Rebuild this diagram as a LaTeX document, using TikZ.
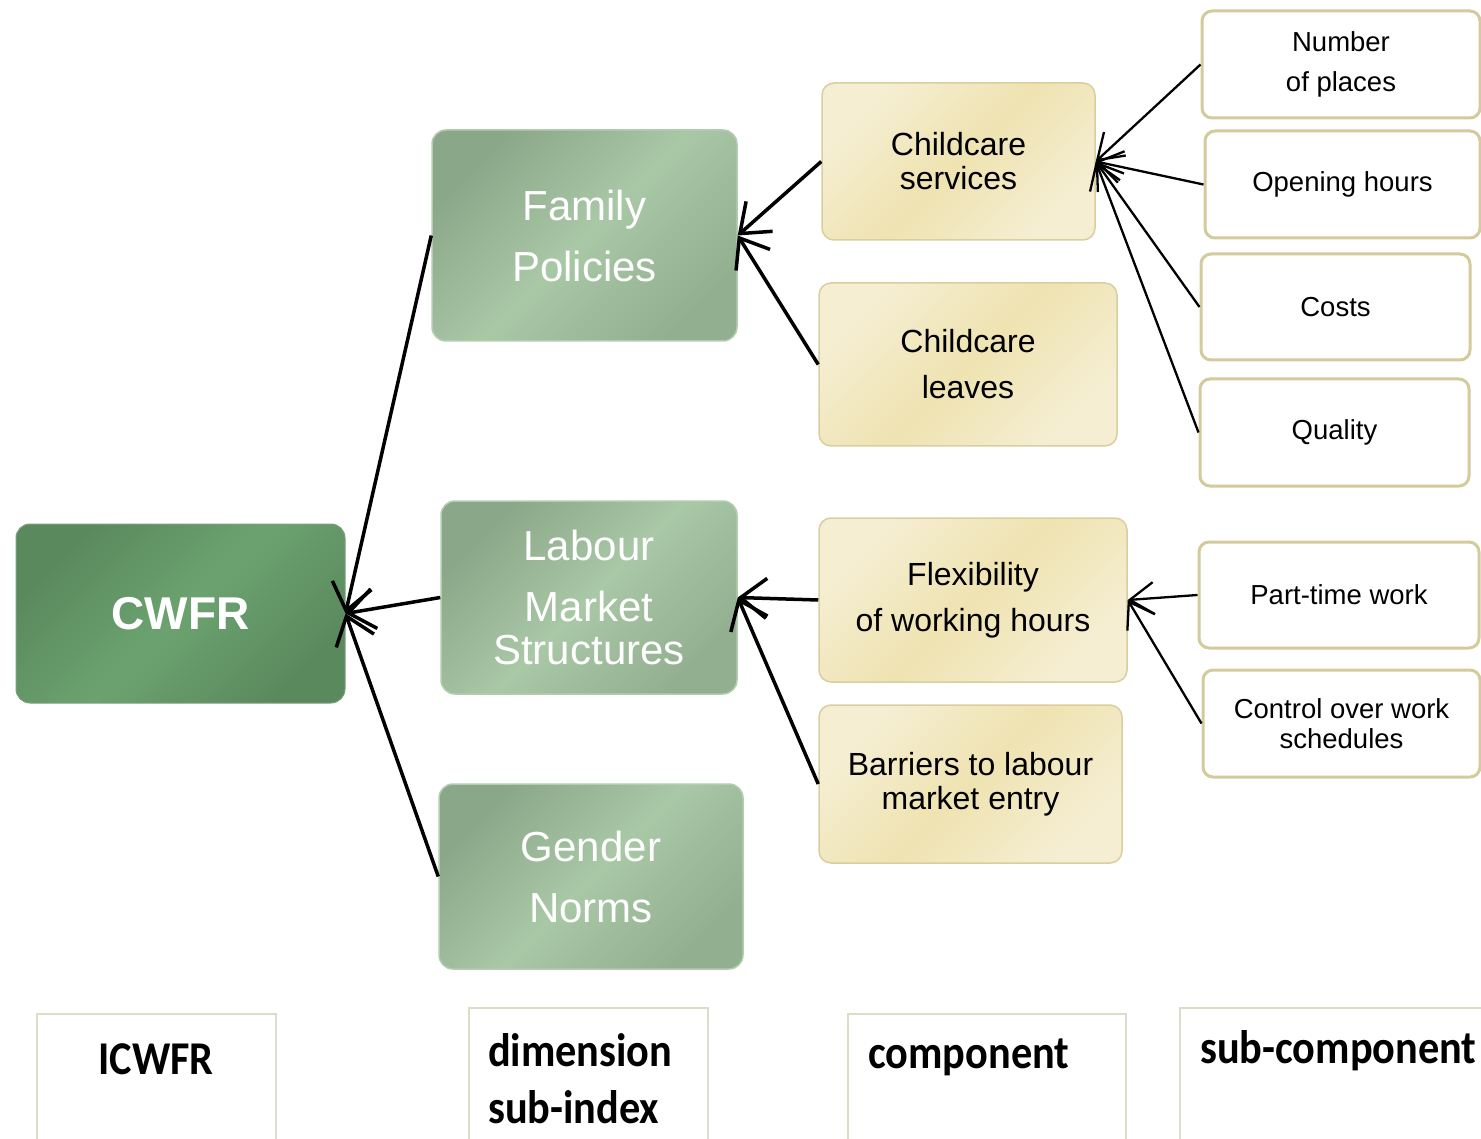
\documentclass[tikz,border=0pt]{standalone}
\usepackage{fontspec}
\setmainfont{Liberation Sans}
\newfontfamily\labfont[FakeStretch=0.9]{Carlito}
\usetikzlibrary{arrows.meta}
\definecolor{cwA}{HTML}{5A895D}
\definecolor{cwB}{HTML}{6CA270}
\definecolor{dmA}{HTML}{8BA789}
\definecolor{dmB}{HTML}{A9C8A6}
\definecolor{dmL}{HTML}{B3CDB0}
\definecolor{cpA}{HTML}{F5EED3}
\definecolor{cpB}{HTML}{EFE3B1}
\definecolor{cpL}{HTML}{D8CE9E}
\definecolor{scL}{HTML}{D3CB9C}
\definecolor{lbL}{HTML}{DADDC8}
\begin{document}
\begin{tikzpicture}[x=1pt,y=-1pt,
  cwbox/.style={rounded corners=14pt, draw=cwA!80!white, line width=1pt, inner sep=0pt,
    top color=cwA, bottom color=cwA, middle color=cwB, shading angle=45,
    text=white, font=\fontsize{46}{50}\selectfont\bfseries},
  dimbox/.style={rounded corners=14pt, draw=dmL, line width=1.5pt, inner sep=0pt, align=center,
    top color=dmA, bottom color=dmA!75!dmB, middle color=dmB, shading angle=45,
    text=white, font=\fontsize{42}{61}\selectfont},
  compbox/.style={rounded corners=12pt, draw=cpL, line width=1.5pt, inner sep=0pt, align=center,
    top color=cpA, bottom color=cpA, middle color=cpB, shading angle=45,
    text=black},
  subbox/.style={rounded corners=10pt, draw=scL, line width=3pt, fill=white, inner sep=0pt,
    align=center, text=black},
  labbox/.style={draw=lbL, line width=1.5pt, fill=white, inner sep=0pt},
  labtext/.style={inner sep=0pt, font=\labfont\bfseries\fontsize{47}{57}\selectfont},
  arr/.style={line width=3.5pt, -{Straight Barb[length=26pt,width=40pt]}},
  sarr/.style={line width=2.3pt, -{Straight Barb[length=24pt,width=32pt]}}
]
\useasboundingbox (0,0) rectangle (1481,1139);

% ICWFR level
\node[cwbox, minimum width=329pt, minimum height=179pt] (cwfr) at (180.5,613.5) {CWFR};

% dimensions
\node[dimbox, minimum width=305pt, minimum height=211pt] (fp) at (584.5,235.5) {Family\\Policies};
\node[dimbox, minimum width=296pt, minimum height=193pt] (lms) at (589,597.5) {Labour\\Market\\[-18pt]Structures};
\node[dimbox, minimum width=304pt, minimum height=185pt] (gn) at (591,876.5) {Gender\\Norms};

% components
\node[compbox, minimum width=273pt, minimum height=157pt, font=\fontsize{32}{34}\selectfont] (cs) at (958.5,161.5) {Childcare\\services};
\node[compbox, minimum width=298pt, minimum height=163pt, font=\fontsize{32}{46}\selectfont] (cl) at (968,364.5) {Childcare\\leaves};
\node[compbox, minimum width=308pt, minimum height=164pt, font=\fontsize{32}{46}\selectfont] (fl) at (973,600) {Flexibility\\of working hours};
\node[compbox, minimum width=303pt, minimum height=158pt, font=\fontsize{32}{34}\selectfont] (br) at (970.5,784) {Barriers to labour\\market entry};

% sub-components
\node[subbox, minimum width=278pt, minimum height=107pt, font=\fontsize{27.5}{40}\selectfont] (np) at (1341,64.5) {Number\\of places};
\node[subbox, minimum width=275pt, minimum height=107pt, font=\fontsize{27.5}{33}\selectfont] (oh) at (1342.5,184.5) {Opening hours};
\node[subbox, minimum width=269pt, minimum height=106pt, font=\fontsize{27.5}{33}\selectfont] (co) at (1335.5,307) {Costs};
\node[subbox, minimum width=269pt, minimum height=107pt, font=\fontsize{27.5}{33}\selectfont] (qu) at (1334.5,432.5) {Quality};
\node[subbox, minimum width=280pt, minimum height=106pt, font=\fontsize{27.5}{33}\selectfont] (pt) at (1339,595) {Part-time work};
\node[subbox, minimum width=277pt, minimum height=107pt, font=\fontsize{27.5}{30}\selectfont] (ct) at (1341.5,723.5) {Control over work\\schedules};

% connectors
\draw[arr] (fp.west) -- (cwfr.east);
\draw[arr] (lms.west) -- (cwfr.east);
\draw[arr] (gn.west) -- (cwfr.east);
\draw[arr] (cs.west) -- (fp.east);
\draw[arr] (cl.west) -- (fp.east);
\draw[arr] (fl.west) -- (lms.east);
\draw[arr] (br.west) -- (lms.east);
\draw[sarr] (np.west) -- (cs.east);
\draw[sarr] (oh.west) -- (cs.east);
\draw[sarr] (co.west) -- (cs.east);
\draw[sarr] (qu.west) -- (cs.east);
\draw[sarr] (pt.west) -- (fl.east);
\draw[sarr] (ct.west) -- (fl.east);

% legend boxes
\node[labbox, minimum width=239pt, minimum height=127pt] (b1) at (156.5,1077.5) {};
\node[labbox, minimum width=239pt, minimum height=133pt] (b2) at (588.5,1074.5) {};
\node[labbox, minimum width=278pt, minimum height=127pt] (b3) at (987,1077.5) {};
\node[labbox, minimum width=304pt, minimum height=133pt] (b4) at (1332,1074.5) {};
\node[labtext, anchor=base] (l1) at (156,1074) {ICWFR};
\node[labtext, anchor=base west] (l2) at (488,1066) {dimension};
\node[labtext, anchor=base west] (l2b) at (488,1123) {sub-index};
\node[labtext, anchor=base west] (l3) at (868,1068) {component};
\node[labtext, anchor=base west] (l4) at (1200,1063) {sub-component};
\end{tikzpicture}
\end{document}
